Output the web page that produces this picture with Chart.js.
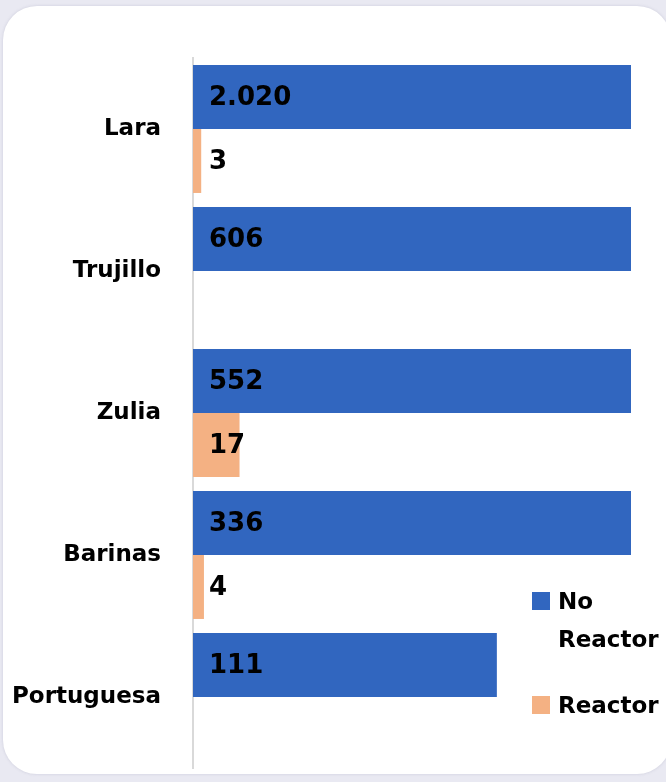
<!DOCTYPE html>
<html>
<head>
<meta charset="utf-8">
<script src="https://cdn.jsdelivr.net/npm/chart.js@4.4.1/dist/chart.umd.min.js"></script>
<style>
    html, body {
        margin: 0;
        padding: 0;
        background: #e9e9f2;
        width: 666px;
        height: 782px;
        overflow: hidden;
    }
    .card {
        position: absolute;
        left: 3px;
        top: 6px;
        width: 668px;
        height: 768px;
        background: #ffffff;
        border-radius: 34px;
        box-shadow: 0 0 3px rgba(120, 120, 150, 0.25);
    }
    #chart {
        position: absolute;
        left: 0;
        top: 0;
    }
    .legend {
        position: absolute;
        left: 532px;
        font-family: "Comic Sans MS", "DejaVu Sans", sans-serif;
        font-weight: bold;
        font-size: 23px;
        line-height: 38px;
        color: #000;
    }
    .legend .box {
        position: absolute;
        left: 0;
        top: 10px;
        width: 18px;
        height: 18px;
    }
    .legend .txt {
        margin-left: 26px;
    }
</style>
</head>
<body>
<div class="card"></div>
<canvas id="chart" width="666" height="782"></canvas>
<div class="legend" style="top:582px;"><div class="box" style="background:#3166bf"></div><div class="txt">No<br>Reactor</div></div>
<div class="legend" style="top:686px;"><div class="box" style="background:#f4b183"></div><div class="txt">Reactor</div></div>
<script>
// Data
const categories = ['Lara', 'Trujillo', 'Zulia', 'Barinas', 'Portuguesa'];
const noReactor = [2020, 606, 552, 336, 111];
const reactor = [3, null, 17, 4, null];

const COLORS = {
    blue: '#3166bf',
    orange: '#f4b183'
};

const FONT = '"Comic Sans MS", "DejaVu Sans", sans-serif';

// thousands with a dot, like 2.020
function fmt(v) {
    return String(v).replace(/\B(?=(\d{3})+(?!\d))/g, '.');
}

// value labels inside the bars, near the base
const barLabels = {
    id: 'barLabels',
    afterDatasetsDraw(chart) {
        const ctx = chart.ctx;
        ctx.save();
        ctx.font = 'bold 26px ' + FONT;
        ctx.fillStyle = '#000';
        ctx.textAlign = 'left';
        ctx.textBaseline = 'middle';
        chart.data.datasets.forEach((ds, i) => {
            const meta = chart.getDatasetMeta(i);
            meta.data.forEach((bar, j) => {
                const v = ds.data[j];
                if (v === null || v === undefined) return;
                ctx.fillText(fmt(v), bar.base + 16, bar.y + 1);
            });
        });
        ctx.restore();
    }
};

new Chart(document.getElementById('chart'), {
    type: 'bar',
    data: {
        labels: categories,
        datasets: [
            {
                label: 'No Reactor',
                data: noReactor,
                backgroundColor: COLORS.blue,
                categoryPercentage: 0.901,
                barPercentage: 1
            },
            {
                label: 'Reactor',
                data: reactor,
                backgroundColor: COLORS.orange,
                categoryPercentage: 0.901,
                barPercentage: 1
            }
        ]
    },
    options: {
        indexAxis: 'y',
        responsive: false,
        animation: false,
        layout: {
            padding: { top: 58, bottom: 14, right: 35, left: 0 }
        },
        plugins: {
            legend: { display: false },
            tooltip: { enabled: false }
        },
        scales: {
            x: {
                display: false,
                min: 0,
                max: 160
            },
            y: {
                afterFit: function(scale) {
                    scale.width = 193;
                    scale.paddingTop = 0;
                    scale.paddingBottom = 0;
                },
                grid: { display: false },
                border: { display: true, color: '#d9d9d9', width: 2 },
                ticks: {
                    padding: 24,
                    color: '#000',
                    font: { family: FONT, weight: 'bold', size: 23 }
                }
            }
        }
    },
    plugins: [barLabels]
});
</script>
</body>
</html>
